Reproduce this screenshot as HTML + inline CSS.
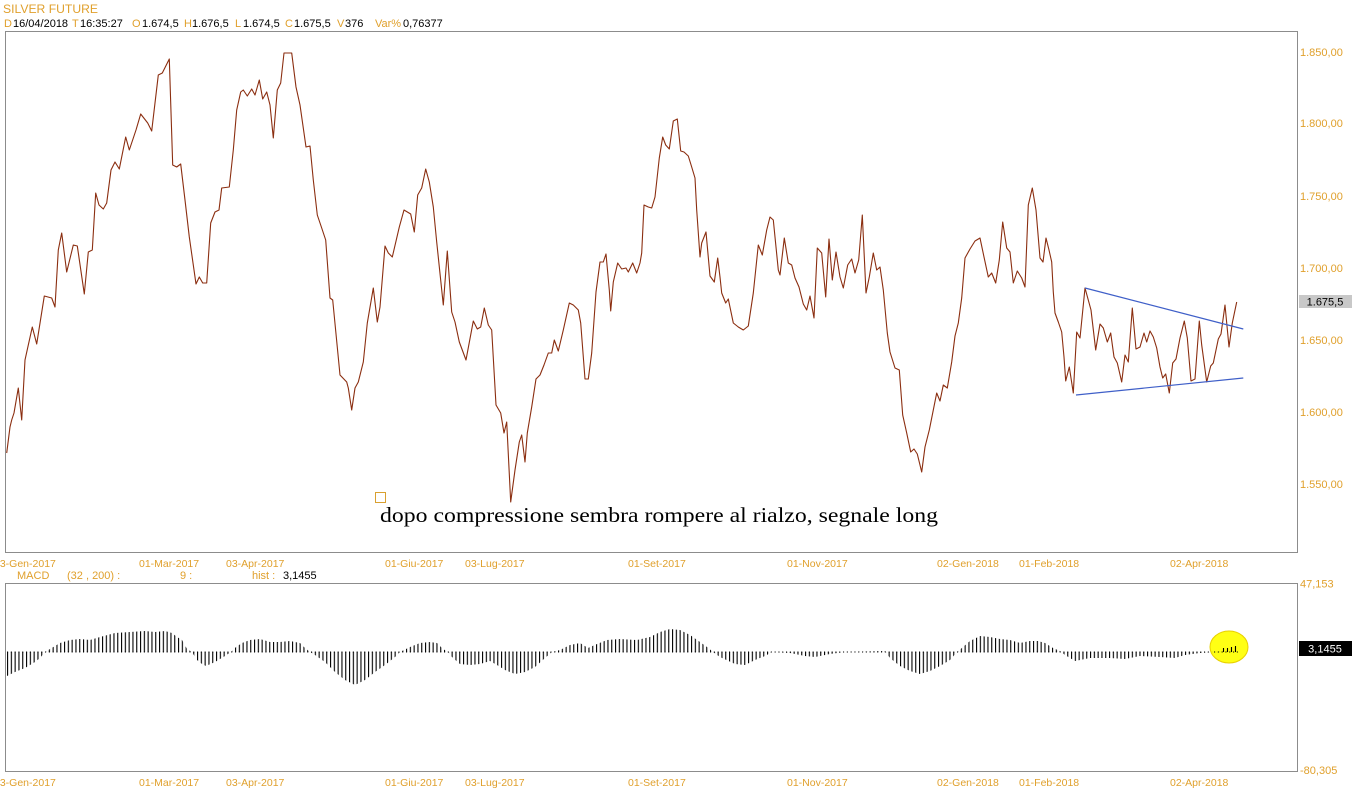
<!DOCTYPE html>
<html><head><meta charset="utf-8"><style>
html,body{margin:0;padding:0;background:#fff;}
svg{display:block;font-family:"Liberation Sans",Arial,sans-serif;}
.o{fill:#e0a02c;}
.k{fill:#000;}
</style></head><body>
<svg width="1352" height="800" viewBox="0 0 1352 800" xmlns="http://www.w3.org/2000/svg">
<defs>
<pattern id="bars" patternUnits="userSpaceOnUse" x="7" y="0" width="3.8" height="20">
<rect x="0" y="0" width="1.1" height="20" fill="#000"/>
</pattern>
</defs>
<rect width="1352" height="800" fill="#fff"/>
<!-- header -->
<text x="3" y="13" font-size="12" class="o" textLength="95" lengthAdjust="spacingAndGlyphs">SILVER FUTURE</text>
<g font-size="11">
<text x="4" y="27" class="o">D</text><text x="13" y="27" class="k">16/04/2018</text>
<text x="72" y="27" class="o">T</text><text x="80" y="27" class="k">16:35:27</text>
<text x="132" y="27" class="o">O</text><text x="142" y="27" class="k">1.674,5</text>
<text x="184" y="27" class="o">H</text><text x="192" y="27" class="k">1.676,5</text>
<text x="235" y="27" class="o">L</text><text x="243" y="27" class="k">1.674,5</text>
<text x="285" y="27" class="o">C</text><text x="294" y="27" class="k">1.675,5</text>
<text x="337" y="27" class="o">V</text><text x="345" y="27" class="k">376</text>
<text x="375" y="27" class="o">Var%</text><text x="403" y="27" class="k">0,76377</text>
</g>
<!-- main box -->
<rect x="5.5" y="31.5" width="1292" height="521" fill="none" stroke="#8c8c8c" stroke-width="1"/>
<!-- y labels -->
<g font-size="11" class="o">
<text x="1300" y="56">1.850,00</text>
<text x="1300" y="127">1.800,00</text>
<text x="1300" y="200">1.750,00</text>
<text x="1300" y="272">1.700,00</text>
<text x="1300" y="344">1.650,00</text>
<text x="1300" y="416">1.600,00</text>
<text x="1300" y="488">1.550,00</text>
</g>
<rect x="1299" y="295" width="53" height="13" fill="#c8c8c8"/>
<text x="1325" y="305.5" font-size="11" class="k" text-anchor="middle">1.675,5</text>
<!-- price line -->
<polyline fill="none" stroke="#8b2e10" stroke-width="1.1" stroke-linejoin="round" points="
6.7,453 10,427 11.7,420 14,413 18.3,388 21.7,420 25,360 28.3,345 32.3,327 36.7,344 44.3,296 51.7,298 55,307 58.3,250 61.7,233 66.7,272 73.3,245 77.3,246 84.3,294 88.3,252 92.3,250 95.7,193 99,205 103.3,209 106.7,203 111,170 115,162 119.3,169 125.7,137 129.3,150 136,130 140.7,114 147.7,123 151.7,131 158.3,75 162.3,73 169.3,59 172.7,165 176.7,167 180.7,164 185,200 189.3,237 196,284 199.3,277 202.7,283 206.7,283 210.7,223 215,212 219,210 221.7,188 229.3,187 233.3,150 236.7,110 240.7,92 243.3,90 247.3,96 251.7,89 255,95 259.3,80
262.7,99 266.7,92 270,105 273.3,138 277.3,90 280.7,83 284,53 291.7,53 296,87 300,105 306,147 310,146 313.3,180 317.3,215 321.7,228 325.7,240 330,298 332.7,300 340,375 346.7,382 348.3,388 351.7,410 355,388 358.3,382 363.3,362 367.3,323 373.3,288 377.3,322 380,307 385,246 388.3,253 392.3,257 399.3,227 404,210 410.7,214 414.3,232 417.7,195 421.7,188 425.7,169 429.3,182 433.3,207 436.7,242 443.3,305 447.3,251 451.7,312 455,322 459.3,342 466,360 473.3,321 477.3,329 480.7,327 484.3,308 488.3,325 491.7,330 496,405 500.7,413 504,433 506.7,422 510.7,502 515,470 519.3,442
521.7,435 525,462 527.3,433 531.7,407 536,379 540,375 544,365 548.3,353 551.7,353 554.3,340 558.3,351 563.3,330 569.3,303 573.3,305 578.3,310 580.7,323 585,379 588.3,379 591.7,353 596,292 600,262 603.3,262 606,254 609.3,290 610.7,311 613.3,282 617.7,263 621.7,269 626,268 628.3,272 632.7,263 636.7,273 640,263 641.7,253 644,205 648.3,207 651.7,208 655,197 659.3,158 662.7,137 665.7,145 669.3,149 673.3,121 677.3,119 680.7,151 684,152 688.3,156 691.7,167 695,178 696.7,210 700,257 701.7,243 706,232 710,276 714.3,282 717.7,258 720,277 721.7,293 725.7,303 728.3,299 733.3,323 738.3,327 743.3,330 748.3,326 753.3,293 758.3,245 762.3,255 766.7,230 770,217 773.3,220 778.3,270 780,275
784.3,238 788.3,263 791.7,265 795,278 799,287 803.3,304 806.7,310 810,296 814,318 817.3,248 821.7,253 825.7,297 829,239 832.3,280 836,252 840,277 843.3,288 847.7,265 851.7,259 855,273 858.7,260 862.3,215 866,293 869.3,277 873.3,253 876.7,270 880,267 883.3,290 887.3,333 890,352 895,368 899.3,370 902.7,415 906.7,433 910.7,452 914,449 917.3,454 921.7,472 925,447 929.3,430 933.3,410 936.7,393 940,401 943.3,385 947.3,388 951.7,362 955,336 958.3,323 961.7,298 965,258 970,249 975,241 980,238 984,257 988.3,277 991.7,273 995.7,283 999.3,260 1002.7,222 1006.7,248 1010,252 1013.3,283 1017.3,271 1021.7,278 1025,287 1028.3,205 1032.3,188 1036,210 1040,258 1043,262 1046,238 1049,250 1051.7,262
1053.3,292 1055,313 1058.3,322 1061.7,332 1064,357 1065.7,381 1069.3,367 1073.3,393 1076.7,332 1080,338 1085,288 1091,310 1095.7,350 1100,324 1103.3,328 1107.3,342 1110.7,333 1114,357 1117.3,363 1121.7,382 1125,355 1128.3,362 1132.3,308 1136,349 1140,347 1144,333 1146.7,342 1150,331 1153.3,337 1156.7,348 1160,367 1162.7,378 1165.7,374 1169.3,393 1172.7,363 1176,359 1180,338 1184.3,321 1187.3,338 1191,381 1195,379 1199.3,321 1201.7,345 1206.7,382 1210.7,366 1213.3,363 1218.3,339 1221,334 1225,305 1229,347 1232.3,323 1236.7,302"/>
<!-- trendlines -->
<line x1="1085" y1="288" x2="1243.3" y2="329" stroke="#3f5fc8" stroke-width="1.2"/>
<line x1="1076" y1="395" x2="1243.3" y2="378" stroke="#3f5fc8" stroke-width="1.2"/>
<!-- annotation -->
<rect x="375.5" y="492.5" width="10" height="10" fill="none" stroke="#d9a030" stroke-width="1"/>
<text x="380" y="522" font-family="'Liberation Serif','Times New Roman',serif" font-size="21" fill="#000" textLength="558" lengthAdjust="spacingAndGlyphs">dopo compressione sembra rompere al rialzo, segnale long</text>
<!-- x labels top -->
<g font-size="10.5" class="o">
<text x="-6" y="567">03-Gen-2017</text>
<text x="139" y="567">01-Mar-2017</text>
<text x="226" y="567">03-Apr-2017</text>
<text x="385" y="567">01-Giu-2017</text>
<text x="465" y="567">03-Lug-2017</text>
<text x="628" y="567">01-Set-2017</text>
<text x="787" y="567">01-Nov-2017</text>
<text x="937" y="567">02-Gen-2018</text>
<text x="1019" y="567">01-Feb-2018</text>
<text x="1170" y="567">02-Apr-2018</text>
</g>
<!-- MACD header -->
<g font-size="11">
<text x="17" y="579" class="o">MACD</text>
<text x="67" y="579" class="o">(32 , 200) :</text>
<text x="180" y="579" class="o">9 :</text>
<text x="252" y="579" class="o">hist :</text>
<text x="283" y="579" class="k">3,1455</text>
</g>
<!-- MACD box -->
<rect x="5.5" y="583.5" width="1292" height="188" fill="none" stroke="#8c8c8c" stroke-width="1"/>
<text x="1300" y="587.5" font-size="11" class="o">47,153</text>
<text x="1300" y="774" font-size="11" class="o">-80,305</text>
<!-- histogram -->
<line x1="7" y1="652" x2="1237" y2="652" stroke="#000" stroke-width="1" stroke-dasharray="1.1,2.7"/>
<polygon fill="url(#bars)" points="7,652 7,676 15,672 25,668 35,662 40,658 45,652 50,649 60,643 70,640 80,639 90,640 100,637 115,633 130,632 145,631 155,632 165,631 172,633 177,637 182,640 187,649 192,652 197,660 202,664 206,666 215,662 225,656 231,652 236,647 242,643 250,640 260,639 270,642 280,642 290,641 300,643 305,648 310,652 315,655 325,662 335,672 345,680 355,685 365,680 375,672 385,665 395,657 400,652 410,647 420,643 430,642 437,643 443,649 448,652 452,657 460,664 470,665 480,664 490,661 497,665 505,670 515,674 525,672 535,667 545,658 552,652 560,650 570,645 580,643 588,648 597,644 607,640 620,639 637,640 650,637 660,632 670,629 680,630 690,635 700,642 707,647 713,652 720,657 735,664 745,665 755,660 765,656 772,652 790,653 805,656 815,657 830,654 845,652 885,651 890,658 900,666 910,671 920,674 930,671 940,666 950,660 957,652 963,647 970,641 980,636 990,637 1000,639 1010,640 1020,643 1030,641 1038,641 1045,643 1053,648 1060,651 1065,655 1075,661 1090,658 1110,658 1125,659 1140,656 1160,657 1175,658 1185,655 1200,653 1215,652 1225,650 1238,646 1238,652"/>
<!-- yellow circle -->
<ellipse cx="1229" cy="647" rx="19" ry="16" fill="#ffff00" stroke="#e8d000" stroke-width="1" fill-opacity="0.92"/>
<line x1="1214" y1="652" x2="1238" y2="652" stroke="#000" stroke-width="1" stroke-dasharray="1.1,2.7"/>
<g stroke="#000" stroke-width="1.1">
<line x1="1223.5" y1="648" x2="1223.5" y2="652"/>
<line x1="1227.5" y1="648" x2="1227.5" y2="652"/>
<line x1="1231.5" y1="647" x2="1231.5" y2="652"/>
<line x1="1235.5" y1="646" x2="1235.5" y2="652"/>
</g>
<rect x="1299" y="641" width="53" height="15" fill="#000"/>
<text x="1325" y="652.5" font-size="11" fill="#fff" text-anchor="middle">3,1455</text>
<!-- x labels bottom -->
<g font-size="10.5" class="o">
<text x="-6" y="786">03-Gen-2017</text>
<text x="139" y="786">01-Mar-2017</text>
<text x="226" y="786">03-Apr-2017</text>
<text x="385" y="786">01-Giu-2017</text>
<text x="465" y="786">03-Lug-2017</text>
<text x="628" y="786">01-Set-2017</text>
<text x="787" y="786">01-Nov-2017</text>
<text x="937" y="786">02-Gen-2018</text>
<text x="1019" y="786">01-Feb-2018</text>
<text x="1170" y="786">02-Apr-2018</text>
</g>
</svg>
</body></html>
